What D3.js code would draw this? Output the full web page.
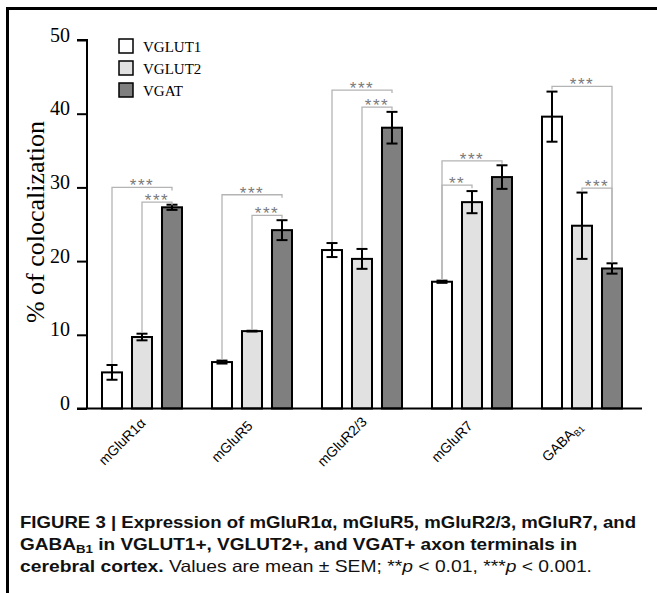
<!DOCTYPE html>
<html><head><meta charset="utf-8">
<script src="https://cdn.jsdelivr.net/npm/d3@7"></script>
<style>body{margin:0;background:#fff}svg{display:block}</style>
</head><body>
<svg id="c" width="657" height="593"></svg>
<script>
// ---- data ----
const groups = ["mGluR1α","mGluR5","mGluR2/3","mGluR7","GABAB1"];
const series = ["VGLUT1","VGLUT2","VGAT"];
const vglut1 = [4.9, 6.3, 21.5, 17.2, 39.6];
const vglut1Err = [1.0, 0.2, 0.95, 0.15, 3.4];
const vglut2 = [9.7, 10.5, 20.3, 28.0, 24.8];
const vglut2Err = [0.45, 0.05, 1.35, 1.5, 4.5];
const vgat = [27.3, 24.2, 38.1, 31.4, 19.0];
const vgatErr = [0.35, 1.35, 2.15, 1.6, 0.7];
const yTicks = [0, 10, 20, 30, 40, 50];
// brackets: [group, seriesA, seriesB, level, label, legA full?, legB full?]
const brackets = [
  [0, 0, 2, 30.0, "***", true, false],
  [0, 1, 2, 28.0, "***", true, false],
  [1, 0, 2, 29.0, "***", true, false],
  [1, 1, 2, 26.2, "***", true, false],
  [2, 0, 2, 43.2, "***", true, false],
  [2, 1, 2, 40.9, "***", true, false],
  [3, 0, 2, 33.6, "***", true, false],
  [3, 0, 1, 30.3, "**", true, false],
  [4, 0, 2, 43.7, "***", false, true],
  [4, 1, 2, 29.9, "***", false, true]
];
const fills = ["#ffffff", "#e1e1e1", "#7f7f7f"];

const values = [vglut1, vglut2, vgat];
const errs = [vglut1Err, vglut2Err, vgatErr];

const svg = d3.select("#c");
const x0 = d3.scaleBand().domain(groups).range([87, 637]).padding(0);
const x1 = d3.scaleBand().domain(series).range([10, 100]).paddingInner(1/3).paddingOuter(1/6);
const y = d3.scaleLinear().domain([0, 50]).range([408.5, 40]);

// frame
svg.append("line").attr("x1", 7).attr("x2", 657).attr("y1", 8.5).attr("y2", 8.5).attr("stroke", "#000").attr("stroke-width", 3);
svg.append("line").attr("x1", 7.5).attr("x2", 7.5).attr("y1", 7).attr("y2", 593).attr("stroke", "#000").attr("stroke-width", 3);

// bars
const cx = (g, s) => x0(groups[g]) + x1(series[s]) + x1.bandwidth() / 2;
const bars = [];
groups.forEach((g, gi) => series.forEach((s, si) => bars.push({gi, si, v: values[si][gi], e: errs[si][gi]})));

svg.append("g").selectAll("rect").data(bars).join("rect")
  .attr("x", d => x0(groups[d.gi]) + x1(series[d.si]))
  .attr("y", d => y(d.v))
  .attr("width", x1.bandwidth())
  .attr("height", d => y(0) - y(d.v))
  .attr("fill", d => fills[d.si])
  .attr("stroke", "#000").attr("stroke-width", 2);

// error bars
const eg = svg.append("g").attr("stroke", "#000").attr("stroke-width", 2);
bars.forEach(d => {
  const c = cx(d.gi, d.si);
  eg.append("line").attr("x1", c).attr("x2", c).attr("y1", y(d.v + d.e)).attr("y2", y(d.v - d.e));
  eg.append("line").attr("x1", c - 5.5).attr("x2", c + 5.5).attr("y1", y(d.v + d.e)).attr("y2", y(d.v + d.e));
  eg.append("line").attr("x1", c - 5.5).attr("x2", c + 5.5).attr("y1", y(d.v - d.e)).attr("y2", y(d.v - d.e));
});

// significance brackets
const bg = svg.append("g");
brackets.forEach(([g, a, b, lvl, lab, fa, fb]) => {
  const xa = cx(g, a), xb = cx(g, b), yl = y(lvl);
  const topA = y(values[a][g] + errs[a][g]) - 1, topB = y(values[b][g] + errs[b][g]) - 1;
  const ya = fa ? topA : yl + 3, yb = fb ? topB : yl + 3;
  bg.append("path").attr("d", `M${xa},${ya}V${yl}H${xb}V${yb}`)
    .attr("fill", "none").attr("stroke", "#b4b4b4").attr("stroke-width", 1.3);
  bg.append("text").attr("x", (xa + xb) / 2).attr("y", yl + 4).attr("text-anchor", "middle")
    .attr("font-family", "Liberation Sans, Arial, sans-serif").attr("font-size", 17)
    .attr("letter-spacing", 1.5).attr("fill", "#7a7a7a").text(lab);
});

// y axis
const yAxis = d3.axisLeft(y).tickValues(yTicks).tickSize(10).tickPadding(5).tickFormat(d3.format("d"));
const ya = svg.append("g").attr("transform", "translate(87,0)").call(yAxis);
ya.select(".domain").attr("stroke-width", 2).attr("d", `M-10,${y(50)}H0V${y(0)}`);
ya.selectAll(".tick line").attr("stroke-width", 2);
ya.selectAll(".tick text").attr("font-family", "Liberation Serif, Times New Roman, serif")
  .attr("font-size", 20).attr("fill", "#000").attr("dy", "0.05em").attr("x", -17);

// x axis baseline
svg.append("line").attr("x1", 77).attr("x2", 642).attr("y1", y(0)).attr("y2", y(0)).attr("stroke", "#000").attr("stroke-width", 2);

// x labels: rotated -45deg about their centre (placed where the slanted labels sit)
const xl = svg.append("g").attr("font-family", "Liberation Sans, Arial, sans-serif").attr("font-size", 14).attr("fill", "#000");
groups.forEach((g, i) => {
  const px = x0(g) + x0.bandwidth() / 2 - 20, py = y(0) + 33;
  const t = xl.append("text").attr("text-anchor", "middle").attr("dy", "0.35em")
    .attr("transform", `translate(${px},${py}) rotate(-45)`);
  if (g === "GABAB1") {
    t.append("tspan").text("GABA");
    t.append("tspan").attr("font-size", 9).attr("dy", 3).text("B1");
  } else t.text(g);
});

// y title
svg.append("text").attr("transform", `translate(44,222) rotate(-90)`).attr("text-anchor", "middle")
  .attr("font-family", "Liberation Serif, Times New Roman, serif").attr("font-size", 26).text("% of colocalization");

// legend
const lg = svg.append("g");
series.forEach((s, i) => {
  lg.append("rect").attr("x", 119).attr("y", 39 + i * 22).attr("width", 14).attr("height", 14)
    .attr("fill", fills[i]).attr("stroke", "#000").attr("stroke-width", 1.5);
  lg.append("text").attr("x", 143).attr("y", 52 + i * 22).attr("font-family", "Liberation Serif, Times New Roman, serif")
    .attr("font-size", 15).text(s);
});

// caption
const cap = svg.append("g").attr("font-family", "Liberation Sans, Arial, sans-serif").attr("font-size", 16.5).attr("fill", "#111");
cap.append("text").attr("x", 20).attr("y", 528).attr("font-weight", "bold")
  .attr("textLength", 616).attr("lengthAdjust", "spacingAndGlyphs")
  .text("FIGURE 3 | Expression of mGluR1α, mGluR5, mGluR2/3, mGluR7, and");
const l2 = cap.append("text").attr("x", 20).attr("y", 550).attr("font-weight", "bold")
  .attr("textLength", 557).attr("lengthAdjust", "spacingAndGlyphs");
l2.append("tspan").text("GABA");
l2.append("tspan").attr("font-size", 11.5).attr("dy", 3).text("B1");
l2.append("tspan").attr("dy", -3).text(" in VGLUT1+, VGLUT2+, and VGAT+ axon terminals in");
const l3 = cap.append("text").attr("x", 20).attr("y", 572)
  .attr("textLength", 572).attr("lengthAdjust", "spacingAndGlyphs");
l3.append("tspan").attr("font-weight", "bold").text("cerebral cortex.");
l3.append("tspan").text(" Values are mean ± SEM; **");
l3.append("tspan").attr("font-style", "italic").text("p");
l3.append("tspan").text(" < 0.01, ***");
l3.append("tspan").attr("font-style", "italic").text("p");
l3.append("tspan").text(" < 0.001.");
</script>
</body></html>
